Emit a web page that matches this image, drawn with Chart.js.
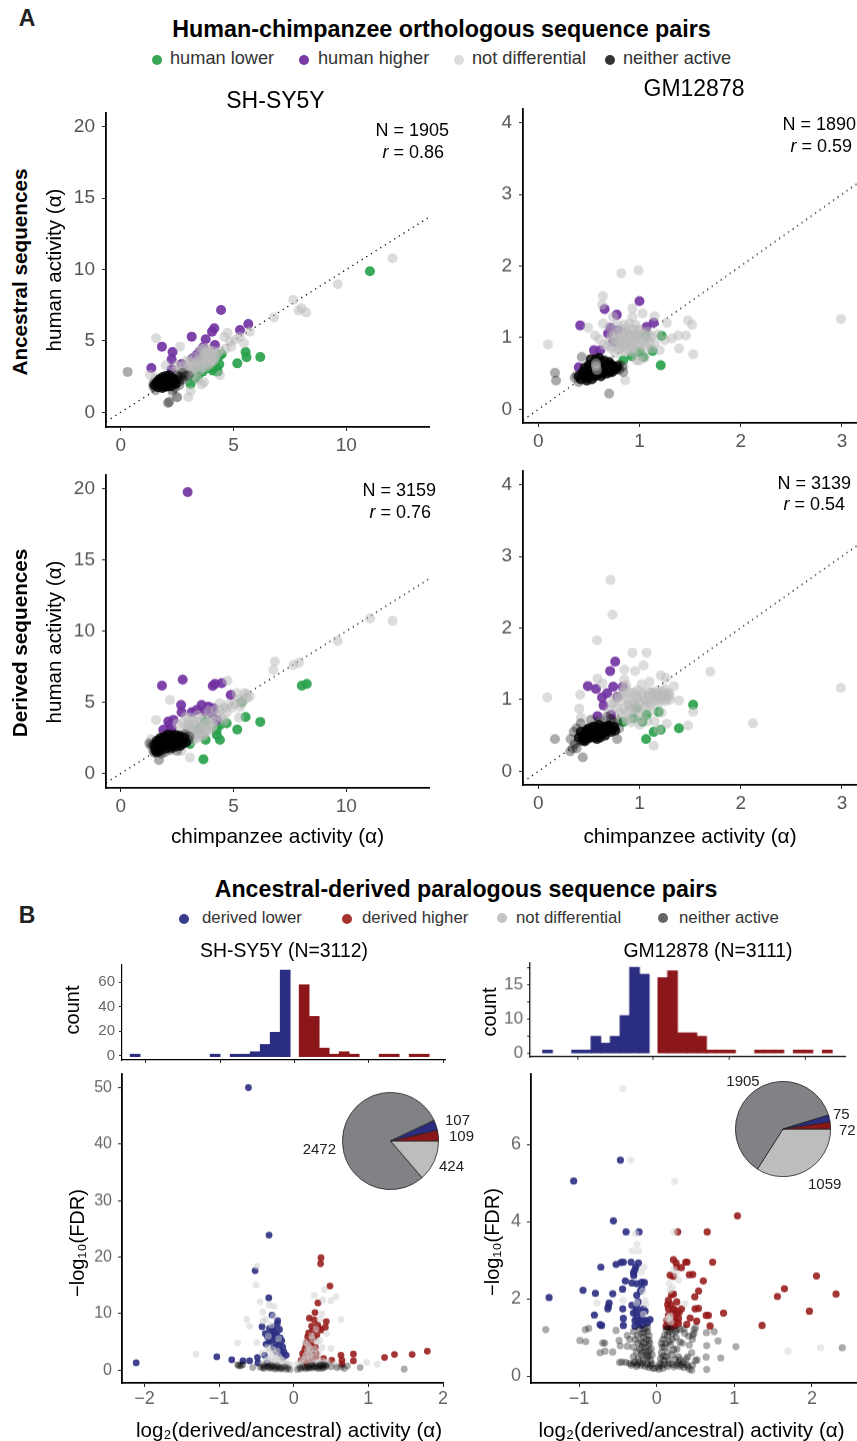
<!DOCTYPE html>
<html><head><meta charset="utf-8">
<style>
html,body{margin:0;padding:0;background:#fff;width:857px;height:1441px;overflow:hidden;font-family:"Liberation Sans",Arial,sans-serif}
#page{position:relative;width:857px;height:1441px;overflow:hidden}
canvas{position:absolute}
.t{position:absolute;white-space:nowrap;line-height:1;z-index:5}
.d{position:absolute;border-radius:50%;z-index:5}
</style>
<script src="https://cdn.jsdelivr.net/npm/chart.js@4"></script>
</head><body><div id="page"></div>
<script>
// ---------- panel A data: [chimpanzee, human] ----------
const a1Lower=[[11.05,9.88],[6.19,3.88],[5.54,4.23],[5.58,3.86],[5.17,3.43],[4.48,4.09],[4.37,3.95],[4.37,3.36],[4.25,3.08],[4.3,2.85],[4.1,2.92],[3.63,2.85],[3.44,2.62],[3.1,1.99],[3.3,2.38],[3.52,3.2],[3.88,3.08],[3.37,2.97]];
const a1Higher=[[4.45,7.17],[5.66,6.19],[5.29,5.77],[4.15,5.89],[4.05,5.65],[3.15,5.3],[3.77,5.12],[1.83,4.6],[4.18,4.72],[2.3,4.23],[3.66,4.56],[3.5,4.25],[2.26,3.71],[3.19,3.79],[1.36,3.1],[2.26,3.01],[2.85,3.06],[2.7,3.39],[3.37,4.02],[3.45,3.9]];
const a1NotDiff=[[12.05,10.8],[9.62,8.97],[7.65,7.87],[8.02,7.29],[7.88,7.13],[8.22,6.99],[6.8,6.64],[5.73,5.65],[4.74,5.58],[4.85,4.95],[5.29,5.3],[5.47,4.84],[1.57,5.19],[2.63,4.6],[1.3,2.62],[4.6,5.3],[5.1,5.1],[4.65,4.45],[4.9,4.6],[4.4,4.3],[3.5,4.3],[3.7,4.1],[3.9,4.4],[4,3.9],[3.8,3.7],[4.1,3.6],[3.6,3.6],[3.9,3.3],[4.2,3.9],[3.4,3.5],[3.1,3.4],[2.9,3.6],[2.7,3.2],[3.3,3.1],[3.5,2.9],[3,2.8],[2.6,2.9],[3.2,2.6],[3.7,2.1],[3.6,1.95],[3.1,1.5],[3,1.05],[2.5,1.05],[2,3.3],[1.55,2.4],[4.4,2.6],[4,4.2],[3.75,4],[3.85,3.85],[3.95,3.55],[4.05,4.05],[3.65,3.8],[2.4,2.9],[3.4,2.3],[2.8,2.3],[2.3,1.3],[1.5,2.1],
 [3.6,4.45],[3.75,4.5],[3.95,4.15],[3.85,4.25],[3.8,3.95],[3.9,3.75],[4,3.45],[4.15,3.75],[3.7,3.45],[3.55,3.25],[3.45,3.7],[3.3,3.35],[3.15,3.15],[3.2,2.95],[3,3.15],[2.85,3],[3.6,3.1],[3.75,3.15],[3.95,3.95],[4.1,4.3],[4.3,4.15],[2.5,3.3],[3.05,3.6],[3.25,3.85]];
const a1NeitherDense=[[1.5,1.9],[1.6,2.1],[1.65,1.75],[1.7,2.3],[1.75,1.95],[1.8,2.15],[1.85,1.7],[1.85,2.45],[1.9,2],[1.95,2.25],[1.95,1.85],[2,2.55],[2.05,2.1],[2.05,1.8],[2.1,2.35],[2.15,1.95],[2.15,2.6],[2.2,2.15],[2.25,1.85],[2.3,2.4],[2.35,2.05],[2.4,2.25],[2.45,2],[1.7,2.05],[1.8,1.85],[1.9,2.35],[2,1.95],[2.1,2.2],[1.95,2.05],[2.2,2.3],[1.75,2.2],[1.85,2.05],[2.05,2.3],[1.9,1.8],[2.15,2.05],[2.25,2.1],[2,2.4],[1.8,2.3],[2.1,1.85],[1.65,1.95]];
const a1NeitherSparse=[[0.31,2.83],[2.1,0.65],[2.15,0.72],[2.5,1.05],[2.55,2.3],[2.6,2.15],[2.7,2.45],[2.5,2.6],[2.85,2.55],[1.45,1.8],[2.75,2.75],[3,2.6],[2.6,1.9],[2.3,1.55],[1.45,2],[2.4,1.7],[2.6,2.5],[2.75,2.3],[1.55,1.55]];

const a2Lower=[[1.21,0.615],[0.924,0.74],[1.13,0.815],[1.22,1.025],[1.06,1.03],[1.04,0.73],[0.84,0.685],[1,0.8]];
const a2Higher=[[1,1.51],[0.655,1.4],[0.776,1.32],[0.414,1.17],[0.714,1.14],[1.07,1.15],[1.14,1.21],[0.612,0.825],[0.4,0.587],[0.55,0.825],[0.74,0.94],[0.79,1.1],[0.69,1.06]];
const a2NotDiff=[[2.99,1.26],[0.99,1.94],[0.82,1.9],[0.638,1.58],[0.63,1.46],[0.93,1.41],[0.93,1.29],[1.03,1.34],[1.15,1.3],[0.095,0.905],[0.493,1.14],[0.56,1.03],[0.64,1.2],[0.74,1.29],[1.27,1.21],[1.48,1.24],[1.52,1.18],[1.46,1.03],[1.385,1.03],[1.32,0.99],[1.25,0.965],[1.39,0.85],[1.53,0.77],[0.86,0.405],[0.97,0.685],[0.84,0.59],[1.2,0.825],[0.7,0.95],[0.75,1.05],[0.72,0.85],[0.78,0.9],[0.8,1],[0.82,1.12],[0.85,0.8],[0.88,0.95],[0.9,1.05],[0.92,0.88],[0.95,1],[0.97,0.92],[0.85,1.18],[0.9,1.2],[0.98,1.12],[1.02,1.02],[1.05,0.9],[1.08,1.08],[1.1,0.95],[0.78,1.18],[0.83,0.9],[0.93,0.8],[0.76,0.78],[0.87,1.07],[0.96,1.18],[1.12,0.85],[1.18,1.05],[1.05,0.72],[0.65,0.9],[0.6,0.98],[0.7,1.15],[1,0.68],
 [0.74,0.88],[0.76,0.98],[0.78,1.08],[0.8,0.83],[0.81,0.94],[0.83,1.05],[0.85,0.88],[0.86,0.98],[0.87,1.12],[0.89,0.82],[0.9,0.92],[0.91,1.02],[0.93,1.12],[0.94,0.85],[0.95,0.95],[0.96,1.06],[0.98,0.82],[0.99,1],[1,0.9],[1.01,1.1],[1.03,0.95],[1.04,1.05],[1.06,0.85],[1.07,0.98],[1.09,1.02],[0.84,1.02],[0.79,0.96],[0.92,0.96],[0.88,1.08],[0.97,1.04],[0.82,0.86],[0.72,1.02],[0.68,0.88],[1.12,1.02],[1.15,0.92]];
const a2NeitherDense=[[0.42,0.42],[0.45,0.47],[0.48,0.4],[0.48,0.55],[0.5,0.47],[0.52,0.62],[0.53,0.42],[0.55,0.52],[0.57,0.7],[0.58,0.48],[0.6,0.56],[0.62,0.46],[0.63,0.65],[0.65,0.53],[0.67,0.6],[0.68,0.5],[0.7,0.56],[0.72,0.62],[0.73,0.52],[0.75,0.58],[0.52,0.7],[0.6,0.72],[0.65,0.68],[0.7,0.66],
 [0.44,0.52],[0.47,0.44],[0.49,0.5],[0.51,0.55],[0.53,0.5],[0.54,0.58],[0.56,0.46],[0.58,0.53],[0.59,0.6],[0.61,0.5],[0.62,0.58],[0.64,0.5],[0.66,0.56],[0.68,0.56],[0.69,0.62],[0.71,0.52],[0.74,0.6],[0.77,0.56],[0.55,0.64],[0.5,0.62],[0.46,0.58],[0.4,0.46],[0.78,0.6]];
const a2NeitherSparse=[[0.7,0.22],[0.165,0.51],[0.175,0.4],[0.43,0.73],[0.38,0.47],[0.36,0.44],[0.4,0.38],[0.8,0.55],[0.84,0.52],[0.8,0.62],[0.83,0.6]];
const a2Light=[[0.57,0.64],[0.57,0.6],[0.58,0.55]];

const a3Lower=[[8.25,6.3],[8.03,6.18],[6.19,3.63],[5.54,3.98],[5.17,3.09],[5.37,5.01],[4.7,3.54],[3.67,1],[4.4,2.37],[3.77,2.37],[4.26,2.72],[4.26,3.07],[4.4,3.42],[3.74,3.65],[3.47,3.07],[3.07,2.08]];
const a3Higher=[[2.97,19.77],[1.83,6.18],[2.75,6.6],[4.08,6.16],[4.18,6.3],[4.48,6.35],[4.88,5.53],[2.68,4.82],[3.59,4.82],[2.7,4.31],[3.15,4.31],[3.37,4.47],[3.89,4.7],[4.11,4.59],[3.74,4.36],[4.26,3.77],[2.11,3.65],[2.34,3.77],[1.89,3.07],[2.19,3.42],[2.26,3.19],[4.04,4.24]];
const a3NotDiff=[[12.06,10.73],[11.06,10.89],[9.62,9.32],[6.84,7.87],[6.77,7.28],[7.66,7.63],[7.91,7.8],[4.74,6.53],[2.19,5.18],[1.57,3.77],[3.07,1.12],[5.48,5.64],[5.73,5.41],[5.14,5.64],[4.4,4.94],[4.8,4.85],[5.3,4.7],[4.6,4.6],[5.05,4.9],[5.6,5.6],[5.25,3.95],[3.9,4.4],[3.4,4.1],[3.1,3.9],[2.9,4],[3.7,3.9],[3.9,3.6],[4.1,3.4],[4.5,3.9],[4.6,3.7],[3.2,3.5],[3.5,3.4],[3.6,3],[3.8,2.9],[3.3,2.8],[3,3],[2.8,3.6],[3.1,2.6],[3.4,2.5],[3.6,2.6],[3.9,3.1],[2.95,2.95],[1.35,2.4],[1.25,2.15],[1.35,1.9],[2.7,1.6],[3.2,2.3],[4.3,4.1],[2.5,3.5],[2.75,3.05],
 [3,3.4],[3.1,3.15],[3.25,3.7],[3.35,3.3],[3.45,2.9],[3.55,3.7],[3.65,3.3],[3.75,3.1],[3.85,3.4],[4,3.85],[4.15,3.7],[3.2,3.05],[3.05,2.75],[3.25,2.55],[3.5,2.7],[2.9,3.35],[4.45,4.5],[4.7,4.3],[4.95,4.65],[5.2,5.2],[5.45,5.2],[5.35,4.95],[5.6,5.3],[4.2,4.5],[4.05,3.2],[3.7,2.7],[2.95,2.6]];
const a3NeitherDense=[[1.5,2],[1.6,2.3],[1.7,1.8],[1.75,2.5],[1.85,2.15],[1.9,1.9],[1.95,2.6],[2,2.25],[2.1,1.95],[2.1,2.75],[2.2,2.2],[2.25,2.5],[2.3,1.95],[2.4,2.35],[2.45,2.7],[2.5,2.1],[2.6,2.5],[2.65,1.95],[2.7,2.3],[2.8,2.55],[2.9,2.2],[1.85,2.45],[2.05,2.5],[1.65,2.05],[2.35,2.15],[1.8,1.75],[1.95,2.1],[2.15,2.4],[2.3,2.7],[2.55,2.3],[2.75,2.1],[1.7,2.25],[2.05,2.05],[2.45,1.9],[2.6,2.65],[1.55,1.65],[1.6,1.5],[1.75,1.6],[2,1.75],[2.25,1.8]];
const a3NeitherSparse=[[1.5,1.45],[1.45,1.6],[1.7,0.95],[1.8,1.4],[2.5,1.6],[1.4,2],[3,2.35],[3.05,2.6],[1.55,1.7],[2.2,1.65],[1.3,2.1],[1.95,1.5],[2.85,2.75]];

const a4Lower=[[1.53,0.93],[1.39,0.6],[1.065,0.45],[1.14,0.55],[1.21,0.58],[1.03,0.69],[0.97,0.88],[1.07,0.79],[0.94,0.74],[1.19,0.83],[0.84,0.69]];
const a4Higher=[[0.76,1.53],[0.71,1.4],[0.49,1.19],[0.835,1.18],[0.74,1.18],[0.63,1.03],[0.68,1.09],[0.72,0.79],[0.585,0.77],[0.645,0.92],[0.57,1.15],[0.78,1.04]];
const a4NotDiff=[[2.99,1.165],[2.12,0.67],[1.7,1.39],[0.714,2.67],[0.733,2.185],[0.58,1.83],[0.93,1.655],[1.07,1.655],[1.04,1.48],[0.957,1.4],[0.85,1.42],[1.21,1.34],[1.26,1.305],[1.34,1.19],[1.39,0.99],[0.09,1.03],[0.414,1.07],[0.405,0.875],[0.585,1.295],[0.635,1.225],[1.53,0.83],[1.48,0.64],[1.27,0.665],[1.14,0.355],[1.19,0.58],[1.1,1.25],[1.02,1.215],[0.42,0.75],[0.75,0.95],[0.8,1.05],[0.85,0.88],[0.88,1],[0.9,1.1],[0.93,0.92],[0.96,1.05],[1,0.95],[1.02,1.1],[1.05,1],[1.08,1.12],[1.1,0.92],[1.13,1.05],[1.16,0.98],[1.18,1.1],[1.2,1],[1.23,1.05],[1.26,0.98],[1.28,1.08],[1.3,1],[1.25,1.15],[0.95,0.8],[0.85,1.28],[0.87,1.2],[1,0.72],[0.9,0.72],[1.08,0.7],[0.7,0.85],[0.62,0.7],[0.68,0.72],[1.15,0.7],[1.22,0.82],
 [0.78,0.88],[0.82,0.98],[0.86,1.08],[0.88,0.85],[0.91,0.97],[0.94,1.1],[0.97,0.88],[0.98,1.02],[1.01,0.87],[1.04,1.06],[1.06,0.93],[1.09,1.03],[1.11,1.1],[1.12,0.98],[1.14,1.08],[1.17,1.04],[1.19,0.95],[1.21,1.08],[1.24,1],[1.27,1.03],[1.29,1.1],[0.83,1.1],[0.76,1.02],[0.72,0.95],[0.8,0.82],[0.84,0.78],[0.92,0.85],[1.03,0.8],[1.12,0.85],[0.96,0.97],[1.07,0.97],[1.15,1.12],[0.98,1.13],[0.89,0.93],[0.85,1.18],[0.87,0.72],[0.92,0.68],[1,0.65],[1.3,1.06],[1.22,1.12]];
const a4NeitherDense=[[0.4,0.47],[0.42,0.55],[0.44,0.43],[0.46,0.5],[0.48,0.58],[0.5,0.46],[0.52,0.53],[0.54,0.62],[0.55,0.47],[0.57,0.56],[0.59,0.5],[0.6,0.65],[0.62,0.53],[0.64,0.6],[0.66,0.5],[0.68,0.57],[0.7,0.64],[0.72,0.55],[0.5,0.6],[0.46,0.42],[0.58,0.45],[0.75,0.62],[0.44,0.5],[0.47,0.55],[0.49,0.52],[0.51,0.5],[0.53,0.58],[0.55,0.55],[0.56,0.62],[0.58,0.53],[0.6,0.56],[0.62,0.6],[0.64,0.53],[0.66,0.62],[0.68,0.63],[0.7,0.58],[0.73,0.6],[0.5,0.52],[0.48,0.46],[0.61,0.47],[0.65,0.57],[0.76,0.57]];
const a4NeitherSparse=[[0.44,0.195],[0.165,0.45],[0.315,0.28],[0.36,0.38],[0.32,0.45],[0.35,0.55],[0.38,0.32],[0.78,0.7],[0.72,0.73],[0.68,0.76],[0.8,0.6],[0.42,0.67],[0.52,0.72],[0.78,0.45],[0.34,0.32],[0.4,0.42],[0.6,0.7],[0.38,0.6],[0.74,0.68]];

// ---------- panel B volcano data: [log2 ratio, -log10 FDR] ----------
const v1Lower=[[-0.606,50],[-0.33,23.9],[-0.517,17.6],[-0.334,12.8],[-0.29,9.75],[-0.214,8.75],[-0.424,7.7],[-0.325,7.4],[-0.19,7.2],[-0.38,6.5],[-0.245,6.5],[-0.16,5.2],[-0.37,4.6],[-0.27,4],[-0.147,4.1],[-0.1,2.66],[-0.39,2.66],[-1.03,2.36],[-0.83,1.83],[-0.68,1.65],[-0.59,1.65],[-0.486,2.25],[-0.48,1.3],[-0.357,1.3],[-2.11,1.3],[-0.19,3.55],[-0.3,5.3],[-0.236,4.7],[-0.35,5.9],[-0.17,2.9],[-0.22,8.2],[-0.28,6.9],[-0.13,3.2],[-0.25,5.8],[-0.2,4.3],[-0.31,6.3],[-0.23,3.3],[-0.33,5],[-0.27,7.6],[-0.18,5.7],[-0.14,2.3],[-0.22,6.1]];
const v1Higher=[[0.366,19.9],[0.36,18.85],[0.486,14.9],[0.325,11.9],[0.285,10.2],[0.21,9.2],[0.276,8.9],[0.437,8.6],[0.32,8],[0.424,7.6],[0.366,7.1],[0.254,7],[0.31,6.2],[0.187,5.9],[0.232,5],[0.29,4.1],[0.165,4.4],[0.12,2.95],[0.187,2.66],[0.3,2.36],[0.4,2.07],[0.51,1.77],[0.633,2.66],[0.646,1.77],[0.646,1.06],[0.8,2.84],[0.8,1.65],[1.217,2.25],[1.35,2.78],[1.587,2.78],[1.79,3.37],[0.1,1.77],[0.25,1.8],[0.17,1.4],[0.24,3.4],[0.2,6.6],[0.15,3.7],[0.22,4.3],[0.27,5.7],[0.19,3.1],[0.3,3],[0.13,2.2],[0.34,7.4],[0.24,7.8],[0.28,2.7],[0.18,5]];
const v1NotDiff=[[-0.495,18.4],[-0.504,15.1],[-0.45,12.1],[-0.415,10.3],[-0.325,11.5],[-0.26,11.3],[-0.63,9],[-0.593,7.8],[-0.75,4.8],[-1.31,2.84],[-0.495,4.9],[-0.37,9],[-0.41,8.7],[-0.27,9.6],[0.276,13.2],[0.41,14.3],[0.566,13],[0.5,12.3],[0.39,12.4],[0.633,9],[0.38,10],[0.5,3.84],[0.976,1.36],[1.12,1.06],[-0.3,8],[-0.35,4],[-0.25,3],[-0.3,2.2],[-0.2,5.6],[-0.2,2.4],[-0.15,1.8],[-0.26,1.5],[-0.34,6],[-0.1,1.2],[-0.05,0.9],[-0.42,3],[0.05,1],[0.1,1.3],[0.15,2.1],[0.2,3],[0.2,4.2],[0.25,5.5],[0.24,2.5],[0.3,7.3],[0.35,9],[0.15,5],[0.35,5.3],[0.33,3],[0.44,6.5],[0.28,3.8],[0.18,3.4],[0.55,1.1],[0.58,0.7],[0.3,1.5],[0.42,1.3],
 [-0.33,3.3],[-0.28,3.7],[-0.24,2.1],[-0.22,3.4],[-0.18,2],[-0.14,1.4],[-0.08,1],[-0.3,1.2],[-0.35,2],[-0.38,1.6],[-0.42,1],[0.08,0.9],[0.12,1.8],[0.16,2.6],[0.18,4.6],[0.22,3.7],[0.22,2],[0.27,3],[0.27,1.3],[0.2,1.1],[0.32,2],[0.34,1.2],[0.38,1.6],[0.24,6.1],[0.31,5],[0.38,4],[0.45,1.5]];
const v1Neither=[[-0.75,0.89],[-0.68,1],[-0.72,0.7],[-0.55,0.47],[-0.45,0.55],[-0.4,0.3],[-0.35,0.7],[-0.3,0.4],[-0.25,0.2],[-0.2,0.5],[-0.15,0.3],[-0.1,0.15],[-0.05,0.1],[0.05,0.1],[0.1,0.25],[0.15,0.5],[0.2,0.7],[0.25,0.4],[0.3,0.8],[0.35,0.5],[0.4,0.9],[0.42,0.6],[0.38,0.3],[0.68,0.3],[0.72,0.77],[0.89,0.47],[1.48,0.18],[-0.3,0.9],[-0.4,0.8],[0.2,0.35],[0.28,0.6],[0.33,0.25],[-0.25,0.6],[-0.18,0.2],[0.12,0.6],[-0.12,0.6],
 [-0.7,0.85],[-0.74,0.95],[-0.42,0.45],[-0.38,0.6],[-0.33,0.35],[-0.28,0.65],[-0.23,0.35],[-0.17,0.45],[0.18,0.55],[0.22,0.45],[0.26,0.7],[0.3,0.45],[0.34,0.7],[0.37,0.85],[0.4,0.45],[0.43,0.95],[0.44,0.75],[0.36,1],[0.24,0.9],[0.16,0.25],[0.08,0.4],[-0.08,0.4],[-0.22,0.85],[-0.32,0.6],[0.5,0.6],[0.58,0.45],[0.64,0.6]];

const v2Lower=[[-0.468,5.59],[-1.07,5.05],[-0.558,4.02],[-0.395,3.73],[-0.228,3.73],[-0.33,2.95],[-0.43,2.95],[-0.46,2.94],[-0.524,2.89],[-0.236,2.93],[-0.72,2.82],[-0.27,2.82],[-0.296,2.6],[-0.404,2.46],[-0.32,2.41],[-0.258,2.39],[-0.193,2.43],[-0.159,2.42],[-0.193,2.26],[-0.95,2.22],[-0.79,2.14],[-0.567,2.13],[-0.44,2.25],[-1.387,2.03],[-0.258,2.09],[-0.614,1.89],[-0.623,1.8],[-0.63,1.74],[-0.438,1.74],[-0.32,1.83],[-0.258,1.79],[-0.172,1.74],[-0.15,1.68],[-0.803,1.58],[-0.43,1.49],[-0.258,1.53],[-0.193,1.53],[-0.086,1.46],[-0.28,1.44],[-0.15,1.44],[-0.43,1.31],[-0.71,1.31],[-0.73,1.33],[-0.28,1.29],[-0.193,1.31],[-0.24,1.92],[-0.2,1.65],[-0.3,1.63],[-0.18,1.45],[-0.12,1.38],[-0.23,1.38],[-0.27,1.68],[-0.21,2.2],[-0.3,2.68],[-0.28,2.75],[-0.24,1.42]];
const v2Higher=[[1.04,4.15],[0.27,3.73],[0.65,3.73],[0.215,3.01],[0.25,2.93],[0.374,2.95],[0.39,2.95],[0.72,2.95],[0.258,2.82],[0.318,2.81],[0.172,2.61],[0.215,2.58],[0.42,2.62],[0.464,2.63],[0.6,2.46],[2.058,2.59],[1.645,2.26],[1.555,2.06],[2.31,2.12],[0.54,2.2],[0.49,2.05],[0.215,2.12],[0.15,1.96],[0.258,1.92],[1.967,1.68],[0.494,1.74],[0.537,1.75],[0.15,1.74],[0.215,1.74],[0.32,1.74],[0.86,1.63],[0.636,1.57],[0.666,1.57],[0.258,1.61],[0.15,1.57],[0.43,1.5],[0.515,1.42],[0.28,1.49],[0.13,1.44],[0.387,1.34],[0.28,1.36],[0.687,1.295],[1.357,1.31],[0.12,1.29],[0.193,1.31],[0.18,1.85],[0.2,1.65],[0.16,1.42],[0.24,1.7],[0.22,1.5],[0.29,1.65],[0.14,1.85],[0.19,2.1],[0.25,1.42],[0.18,1.28],[0.23,1.3]];
const v2NotDiff=[[-0.438,7.45],[-0.335,5.59],[0.232,5.04],[0.223,3.73],[-0.27,3.69],[-0.253,3.41],[-0.318,3.24],[-0.236,3.23],[-0.163,2.82],[0.25,2.65],[0.28,2.48],[0.172,2.22],[-0.77,1.89],[-0.434,1.96],[0.365,1.87],[1.69,0.64],[2.11,0.73],[-0.2,2.7],[-0.18,2.2],[-0.15,1.95],[0.16,2.4],[0.2,2.3],[0.16,1.5],[0.18,1.4],[-0.26,1.9],[-0.17,1.6],[0.22,2.75],[0.17,1.55],[0.14,1.48],[-0.14,1.85]];
const v2NeitherDense=[[-0.4,0.35],[-0.35,0.33],[-0.3,0.32],[-0.25,0.3],[-0.2,0.28],[-0.15,0.25],[-0.1,0.22],[-0.05,0.2],[0.03,0.18],[0.08,0.2],[0.14,0.25],[0.2,0.3],[0.26,0.28],[0.32,0.3],[0.38,0.3],[0.35,0.22],[0.46,0.28],[-0.3,0.5],[-0.2,0.55],[-0.13,0.45],[-0.08,0.4],[0.05,0.45],[0.12,0.5],[0.2,0.55],[0.28,0.5],[-0.22,0.7],[-0.15,0.75],[-0.1,0.65],[0.06,0.6],[0.1,0.75],[0.18,0.8],[-0.2,0.9],[-0.13,0.95],[-0.09,0.85],[0.08,0.95],[0.14,1.05],[-0.2,1.1],[-0.12,1.15],[0.12,1.2],[0.2,1.1],[-0.15,1.22],[0.16,0.9],[-0.18,0.6],[0.26,0.7],[-0.06,0.55],[0.25,1],
 [-0.28,0.36],[-0.22,0.36],[-0.18,0.32],[-0.12,0.3],[-0.08,0.28],[-0.02,0.2],[0.02,0.24],[0.06,0.28],[0.1,0.3],[0.16,0.32],[0.22,0.24],[0.28,0.34],[0.3,0.25],[0.34,0.36],[0.4,0.25],[-0.33,0.28],[-0.26,0.25],[-0.24,0.45],[-0.17,0.42],[-0.12,0.55],[-0.06,0.32],[0.04,0.32],[0.09,0.4],[0.15,0.42],[0.24,0.42],[0.3,0.42],[-0.26,0.62],[-0.19,0.75],[-0.14,0.62],[-0.1,0.5],[0.08,0.52],[0.14,0.62],[0.22,0.68],[-0.24,0.85],[-0.17,0.85],[-0.11,0.78],[-0.07,0.7],[0.07,0.75],[0.12,0.85],[0.2,0.95],[-0.25,1.05],[-0.17,1],[-0.1,1.05],[0.1,1.05],[0.16,1.15],[0.24,1.15],[-0.22,1.22],[-0.17,1.12],[-0.12,1.25],[0.14,1.25],[0.26,1.2],[-0.3,1.15],[-0.28,0.95],[0.3,0.88],[0.35,1.22],[-0.1,0.93],[0.06,0.85],[0.18,1.22]];
const v2NeitherSparse=[[-1.43,1.2],[-0.92,1.2],[-0.876,1.235],[-0.99,0.92],[-0.915,0.89],[-0.696,0.855],[-0.67,0.85],[-0.73,0.6],[-0.666,0.64],[-0.567,0.62],[-0.524,1.18],[-0.485,0.92],[-0.47,0.78],[-0.378,0.77],[-0.38,1.05],[0.74,1.15],[0.79,0.91],[0.644,0.786],[0.636,0.49],[0.825,0.47],[0.644,0.17],[1.02,0.76],[2.39,0.73],[0.5,0.4],[0.45,0.6],[0.42,0.8],[0.48,1.2],[0.48,1.1],[0.46,0.95],[0.3,1.2],[0.36,1.1],[0.64,1.12],[0.45,0.15],[0.33,0.85],[0.4,0.5],[-0.45,0.36],[-0.48,0.35],[-0.3,0.75],[-0.35,0.95],[0.41,1.03],[0.5,1.25],[0.46,1.05],[0.52,0.42],[0.42,0.18],[0.38,0.45]];

// ---------- panel B histograms ----------
const h1LowerBins=[-0.125,-0.26,-0.394,-0.529,-0.663,-0.798,-0.932,-1.067,-2.143];
const h1LowerCounts=[70,19,9,3,1,1,null,1,1];
const h1HigherBins=[0.13,0.265,0.399,0.534,0.668,0.803,1.206,1.341,1.61,1.744];
const h1HigherCounts=[58,32,6,1,3,1,1,1,1,1];
const h2LowerBins=[-0.12,-0.247,-0.374,-0.502,-0.629,-0.756,-0.883,-1.01,-1.392];
const h2LowerCounts=[23,25,11,5,3,5,1,1,1];
const h2HigherBins=[0.125,0.252,0.379,0.507,0.634,0.761,0.888,1.015,1.397,1.524,1.651,1.906,2.033,2.288];
const h2HigherCounts=[22,24,6,6,5,1,1,1,1,1,1,1,1,1];
const h2TickValues=[0,5,10,15,20,25];
const h2TickLabels=['0','','10','','15',''];

// ---------- pies ----------
const pieLabels=['not differential','neither active','derived lower','derived higher'];
const pie1Values=[424,2472,107,109];
const pie2Values=[1059,1905,75,72];

const cols={lower:'rgba(38,160,72,0.9)',higher:'rgba(112,48,160,0.9)',notDiff:'rgba(185,185,185,0.5)',
  dLower:'rgba(43,45,130,0.9)',dHigher:'rgba(150,25,25,0.88)'};
const page=document.getElementById('page');

function txt(s,x,y,o={}){
  const e=document.createElement('div');e.className='t';e.innerHTML=s;
  e.style.left=x+'px';e.style.top=y+'px';
  e.style.fontSize=(o.size||18)+'px';e.style.color=o.color||'#000';
  if(o.bold)e.style.fontWeight='bold';
  const ax=o.anchor==='end'?'-100%':o.anchor==='start'?'0':'-50%';
  e.style.transform=`translate(${ax},-50%)`+(o.rot?` rotate(${o.rot}deg)`:'');
  if(o.rot)e.style.transformOrigin='50% 50%';
  page.appendChild(e);
}
function dot(x,y,c){const e=document.createElement('div');e.className='d';
  e.style.cssText+=`left:${x-5}px;top:${y-5}px;width:10px;height:10px;background:${c}`;page.appendChild(e);}

function mkCanvas(x,y,w,h){
  const c=document.createElement('canvas');c.width=w;c.height=h;
  c.style.cssText=`left:${x}px;top:${y}px;width:${w}px;height:${h}px`;
  page.appendChild(c);return c;
}
const minus=v=>String(v).replace('-','\u2212');
function axis(rng,vals,o,size,isX){
  return {type:'linear',min:rng[0],max:rng[1],offset:false,
    afterBuildTicks:s=>{s.ticks=vals.map(v=>({value:v}))},
    afterFit:s=>{if(isX)s.height=size;else s.width=size},
    ticks:{display:o.show!==false,autoSkip:false,maxRotation:0,padding:o.pad||5,includeBounds:false,
      color:o.color||'#555',font:{size:o.font||19,family:'"Liberation Sans",Arial,sans-serif'},
      callback:o.labels||(v=>minus(v))},
    grid:{drawOnChartArea:false,offset:false,tickLength:o.tick||4,tickColor:'#222',tickWidth:1},
    border:{display:true,color:'#000',width:o.bw||1.8}};
}
function frame(L,T,R,B,xr,yr,xt,yt,xo,yo,ds,type){
  const lw=70,bh=36,tp=24,rp=30;
  const c=mkCanvas(L-lw,T-tp,R-L+lw+rp,B-T+tp+bh);
  return new Chart(c,{type:type||'scatter',data:{datasets:ds},options:{
    responsive:false,animation:false,events:[],
    layout:{padding:{top:tp,right:rp,left:0,bottom:0}},
    plugins:{legend:{display:false},tooltip:{enabled:false},title:{display:false}},
    scales:{x:axis(xr,xt,xo,bh,true),y:axis(yr,yt,yo,lw,false)}
  }});
}
const pts=a=>a.map(p=>({x:p[0],y:p[1]}));
function sc(a,c,r){return {data:pts(a),backgroundColor:c,borderWidth:0,pointRadius:r,pointHoverRadius:r,showLine:false};}
function diag(a,b){return {data:[{x:a,y:a},{x:b,y:b}],showLine:true,borderColor:'#111',borderWidth:1.3,borderDash:[1.3,4.2],pointRadius:0,fill:false};}

// Chart.js paints dataset 0 last, so dataset 0 sits on top.
function panelA(rect,xr,yr,xt,yt,d,dense,sparse,nd,hi,lo,extra){
  const ds=[sc(dense,'rgba(0,0,0,0.82)',5),sc(sparse,'rgba(0,0,0,0.33)',5),sc(nd,cols.notDiff,5),
    sc(hi,cols.higher,5),sc(lo,cols.lower,5),diag(d[0],d[1])];
  if(extra)ds.unshift(sc(extra,'rgba(190,190,190,0.5)',5));
  frame(...rect,xr,yr,xt,yt,{font:19,pad:3},{font:19,pad:7},ds);
}
const aBigX=[0,5,10],aBigY=[0,5,10,15,20],aGmX=[0,1,2,3],aGmY=[0,1,2,3,4];
panelA([106,113,429,427],[-0.65,13.67],[-1.03,20.97],aBigX,aBigY,[-0.65,13.67],a1NeitherDense,a1NeitherSparse,a1NotDiff,a1Higher,a1Lower);
panelA([522.7,109,857,422.7],[-0.151,3.149],[-0.19,4.19],aGmX,aGmY,[-0.151,3.149],a2NeitherDense,a2NeitherSparse,a2NotDiff,a2Higher,a2Lower,a2Light);
panelA([106,475.3,429,788],[-0.65,13.67],[-1.01,20.97],aBigX,aBigY,[-0.65,13.67],a3NeitherDense,a3NeitherSparse,a3NotDiff,a3Higher,a3Lower);
panelA([522.7,471.3,857,784.7],[-0.151,3.149],[-0.19,4.19],aGmX,aGmY,[-0.151,3.149],a4NeitherDense,a4NeitherSparse,a4NotDiff,a4Higher,a4Lower);

// histograms
function bars(b,v,c,base){const d={data:b.map((x,i)=>({x,y:v[i]})),backgroundColor:c,borderWidth:0,barThickness:10,grouped:false};if(base!==undefined)d.base=base;return d;}
frame(121.7,965,445,1060.3,[-2.32,2.024],[-3.76,74.2],[-2,-1,0,1,2],[0,20,40,60],
  {show:false,tick:3,bw:1.2},{font:15,color:'#666',pad:4,tick:3,bw:1.2},
  [bars(h1LowerBins,h1LowerCounts,'#2b2d80',-1),bars(h1HigherBins,h1HigherCounts,'#8c171b',-1)],'bar');
frame(530.3,963.3,844.7,1057,[-1.62,2.52],[-0.96,26.2],[-1,0,1,2],h2TickValues,
  {show:false,tick:3,bw:1.2},{font:17,color:'#666',pad:4,tick:3,bw:1.2,labels:v=>h2TickLabels[h2TickValues.indexOf(v)]},
  [bars(h2LowerBins,h2LowerCounts,'#2b2d80'),bars(h2HigherBins,h2HigherCounts,'#8c171b')],'bar');

// volcanoes
frame(122,1074,443.3,1382.7,[-2.3,2],[-2.26,52.4],[-2,-1,0,1,2],[0,10,20,30,40,50],
  {font:18,pad:1,color:'#666'},{font:16,pad:6,color:'#666'},
  [sc(v1Neither,'rgba(0,0,0,0.33)',3.4),sc(v1NotDiff,'rgba(205,205,205,0.5)',3.4),sc(v1Higher,cols.dHigher,3.4),sc(v1Lower,cols.dLower,3.4)]);
frame(531,1074,857,1382.7,[-1.62,2.58],[-0.18,7.82],[-1,0,1,2],[0,2,4,6],
  {font:18,pad:1,color:'#666'},{font:18,pad:6,color:'#666'},
  [sc(v2NeitherDense,'rgba(0,0,0,0.36)',3.6),sc(v2NeitherSparse,'rgba(0,0,0,0.33)',3.6),sc(v2NotDiff,'rgba(215,215,215,0.55)',3.6),sc(v2Higher,cols.dHigher,3.6),sc(v2Lower,cols.dLower,3.6)]);

// pies
function pie(cx,cy,r,vals){
  const s=2*r+2,c=mkCanvas(cx-s/2,cy-s/2,s,s);c.style.zIndex=4;
  new Chart(c,{type:'pie',data:{labels:pieLabels,datasets:[{data:vals,backgroundColor:['#bdbdbd','#808285','#2b2d80','#8c171b'],borderColor:'#222',borderWidth:0.8}]},
    options:{responsive:false,animation:false,events:[],rotation:90,plugins:{legend:{display:false},tooltip:{enabled:false}}}});
}
pie(390.7,1141,47.7,pie1Values);
pie(782.7,1129.3,47,pie2Values);

// page text
const G='#333';
txt('A',27,18,{size:23,bold:true,color:'#222'});
txt('B',27,915,{size:23,bold:true,color:'#222'});
txt('Human-chimpanzee orthologous sequence pairs',441.5,30,{size:23.3,bold:true});
txt('Ancestral-derived paralogous sequence pairs',466,890,{size:23.2,bold:true});
dot(157,60,'#38a455');dot(304,60,'#7a3ba5');dot(459,60,'#dcdcdc');dot(610,60,'#333');
txt('human lower',170,58,{size:18.2,anchor:'start',color:G});
txt('human higher',318,58,{size:18.2,anchor:'start',color:G});
txt('not differential',472,58,{size:18.2,anchor:'start',color:G});
txt('neither active',623,58,{size:18.2,anchor:'start',color:G});
dot(184,919,'#3a3c8f');dot(347,919,'#a5332d');dot(502,918,'#c4c4c4');dot(663,918,'#666');
txt('derived lower',202,918,{size:16.8,anchor:'start',color:G});
txt('derived higher',362,918,{size:16.8,anchor:'start',color:G});
txt('not differential',516,918,{size:16.8,anchor:'start',color:G});
txt('neither active',679,918,{size:16.8,anchor:'start',color:G});
txt('SH-SY5Y',275.5,100,{size:23});
txt('GM12878',694,88,{size:23});
txt('SH-SY5Y (N=3112)',284,951,{size:19.4});
txt('GM12878 (N=3111)',708,951,{size:19.4});
txt('Ancestral sequences',20,272,{size:20.7,bold:true,rot:-90});
txt('Derived sequences',20,643,{size:20.7,bold:true,rot:-90});
txt('human activity (\u03b1)',54,270,{size:20.6,rot:-90});
txt('human activity (\u03b1)',54,642,{size:20.6,rot:-90});
txt('chimpanzee activity (\u03b1)',277.5,836,{size:20.8});
txt('chimpanzee activity (\u03b1)',690,836,{size:20.8});
function nr(n,r,xn,yn,xr,yr){txt('N = '+n,xn,yn,{size:18,anchor:'end'});txt('<i>r</i> = '+r,xr,yr,{size:18,anchor:'end'});}
nr(1905,'0.86',449,130,444,152);
nr(1890,'0.59',856,124,852,146);
nr(3159,'0.76',436,490,431,512);
nr(3139,'0.54',851,483,845,504);
txt('count',72,1010,{size:20,rot:-90});
txt('count',489,1012,{size:20,rot:-90});
txt('\u2212log\u2081\u2080(FDR)',77,1243,{size:20,rot:-90});
txt('\u2212log\u2081\u2080(FDR)',492,1242,{size:20,rot:-90});
txt('log\u2082(derived/ancestral) activity (\u03b1)',289,1430,{size:20.6});
txt('log\u2082(derived/ancestral) activity (\u03b1)',691.5,1430,{size:20.6});
const P=15,D='#222';
txt('2472',336,1148,{size:P,anchor:'end',color:D});
txt('107',445,1119,{size:P,anchor:'start',color:D});
txt('109',449,1135,{size:P,anchor:'start',color:D});
txt('424',439,1165,{size:P,anchor:'start',color:D});
txt('1905',743,1080,{size:P,color:D});
txt('75',833,1113,{size:P,anchor:'start',color:D});
txt('72',839,1129,{size:P,anchor:'start',color:D});
txt('1059',808,1183,{size:P,anchor:'start',color:D});
</script></body></html>
